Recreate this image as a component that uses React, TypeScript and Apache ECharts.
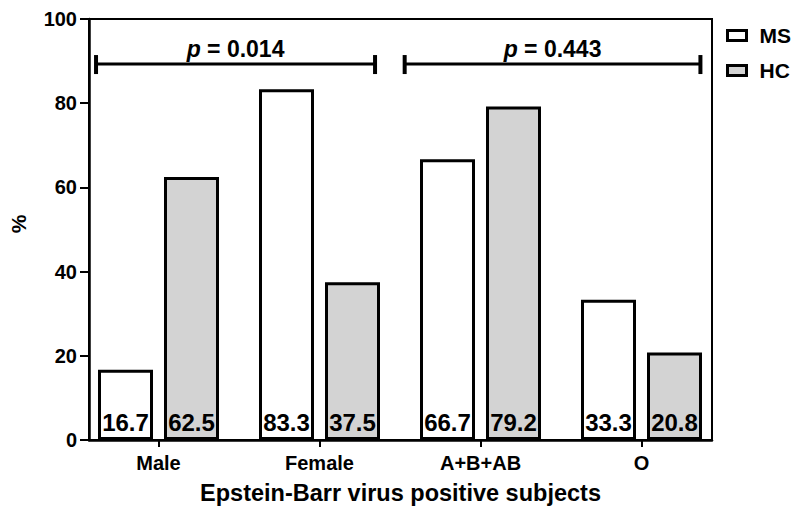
import React, { useEffect, useRef } from "react";
import * as echarts from "echarts";

const categories = ["Male", "Female", "A+B+AB", "O"];
const msValues = [16.7, 83.3, 66.7, 33.3];
const hcValues = [62.5, 37.5, 79.2, 20.8];
const yTicks = { min: 0, max: 100, interval: 20 };
// brackets: [start (category units), end (category units), y value, label]
const brackets: [number, number, number, string][] = [
  [-0.388, 1.345, 89.3, "0.014"],
  [1.529, 3.366, 89.3, "0.443"],
];

const FONT = "Liberation Sans, Arial, Helvetica, sans-serif";

export default function App() {
  const ref = useRef<HTMLDivElement>(null);
  useEffect(() => {
    if (!ref.current) return;
    const chart = echarts.init(ref.current, undefined, { renderer: "svg" });
    const option: any = {
      animation: false,
      backgroundColor: "#fff",
      textStyle: { fontFamily: FONT },
      grid: [
        {
          left: 89, top: 19, width: 623, height: 421,
          show: true, borderColor: "#000", borderWidth: 2, backgroundColor: "transparent",
        },
        { left: 78, top: 19, width: 644, height: 421 },
      ],
      legend: {
        orient: "vertical",
        left: 721,
        top: 20,
        itemWidth: 19,
        itemHeight: 10,
        itemGap: 14,
        icon: "rect",
        itemStyle: { borderColor: "#000", borderWidth: 3 },
        textStyle: { fontSize: 21, fontWeight: "bold", color: "#000", fontFamily: FONT, padding: [0, 0, 0, 8] },
        data: ["MS", "HC"],
      },
      xAxis: [
        {
          gridIndex: 0,
          type: "value",
          min: 0, max: 1,
          axisLine: { show: true, onZero: false, lineStyle: { color: "#000", width: 2.5 } },
          axisTick: { show: false },
          axisLabel: { show: false },
          splitLine: { show: false },
          name: "Epstein-Barr virus positive subjects",
          nameLocation: "middle",
          nameGap: 41,
          nameTextStyle: { fontSize: 23.5, fontWeight: "bold", color: "#000", fontFamily: FONT },
        },
        {
          gridIndex: 1,
          type: "category",
          data: categories,
          axisLine: { show: false },
          axisTick: { show: true, alignWithLabel: true, length: 7, lineStyle: { color: "#000", width: 2 } },
          axisLabel: { margin: 13, fontSize: 20, fontWeight: "bold", color: "#000", fontFamily: FONT },
          splitLine: { show: false },
        },
        {
          gridIndex: 1,
          type: "value",
          min: -0.5, max: 3.5,
          show: false,
        },
      ],
      yAxis: [
        {
          gridIndex: 0,
          type: "value",
          min: yTicks.min, max: yTicks.max, interval: yTicks.interval,
          axisLine: { show: true, lineStyle: { color: "#000", width: 2.5 } },
          axisTick: { show: true, length: 9, lineStyle: { color: "#000", width: 2 } },
          axisLabel: { margin: 12, fontSize: 20, fontWeight: "bold", color: "#000", fontFamily: FONT },
          splitLine: { show: false },
        },
        {
          gridIndex: 1,
          type: "value",
          min: yTicks.min, max: yTicks.max, interval: yTicks.interval,
          show: false,
        },
      ],
      graphic: [
        {
          type: "text",
          x: 18, y: 224,
          rotation: Math.PI / 2,
          style: { text: "%", align: "center", verticalAlign: "middle", fontSize: 21, fontWeight: "bold", fill: "#000", fontFamily: FONT },
        },
      ],
      series: [
        {
          name: "MS",
          type: "bar",
          xAxisIndex: 1, yAxisIndex: 1,
          data: msValues,
          barWidth: 55,
          barGap: "20%",
          itemStyle: { color: "#ffffff", borderColor: "#000", borderWidth: 3 },
          label: {
            show: true, position: "insideBottom", distance: 6,
            fontSize: 24, fontWeight: "bold", color: "#000", fontFamily: FONT,
          },
        },
        {
          name: "HC",
          type: "bar",
          xAxisIndex: 1, yAxisIndex: 1,
          data: hcValues,
          barWidth: 55,
          barGap: "20%",
          itemStyle: { color: "#d3d3d3", borderColor: "#000", borderWidth: 3 },
          label: {
            show: true, position: "insideBottom", distance: 6,
            fontSize: 24, fontWeight: "bold", color: "#000", fontFamily: FONT,
          },
        },
        {
          type: "custom",
          xAxisIndex: 2, yAxisIndex: 1,
          data: brackets,
          silent: true,
          renderItem: (params: any, api: any) => {
            const x0 = api.value(0);
            const x1 = api.value(1);
            const y = api.value(2);
            const p0 = api.coord([x0, y]);
            const p1 = api.coord([x1, y]);
            const label = brackets[params.dataIndex][3];
            return {
              type: "group",
              children: [
                { type: "line", shape: { x1: p0[0], y1: p0[1], x2: p1[0], y2: p1[1] }, style: { stroke: "#000", lineWidth: 3 } },
                { type: "line", shape: { x1: p0[0], y1: p0[1] - 9, x2: p0[0], y2: p0[1] + 10 }, style: { stroke: "#000", lineWidth: 4 } },
                { type: "line", shape: { x1: p1[0], y1: p1[1] - 9, x2: p1[0], y2: p1[1] + 10 }, style: { stroke: "#000", lineWidth: 4 } },
                {
                  type: "text",
                  x: (p0[0] + p1[0]) / 2,
                  y: p0[1] - 4,
                  style: {
                    text: "{i|p} = " + label,
                    align: "center",
                    verticalAlign: "bottom",
                    fontSize: 23,
                    fontWeight: "bold",
                    fontFamily: FONT,
                    fill: "#000",
                    rich: { i: { fontStyle: "italic", fontWeight: "bold", fontSize: 23, fontFamily: FONT, fill: "#000" } },
                  },
                },
              ],
            };
          },
        },
      ],
    };
    chart.setOption(option);
    return () => chart.dispose();
  }, []);
  return <div ref={ref} style={{ position: "fixed", left: 0, top: 0, width: 796, height: 511 }} />;
}
